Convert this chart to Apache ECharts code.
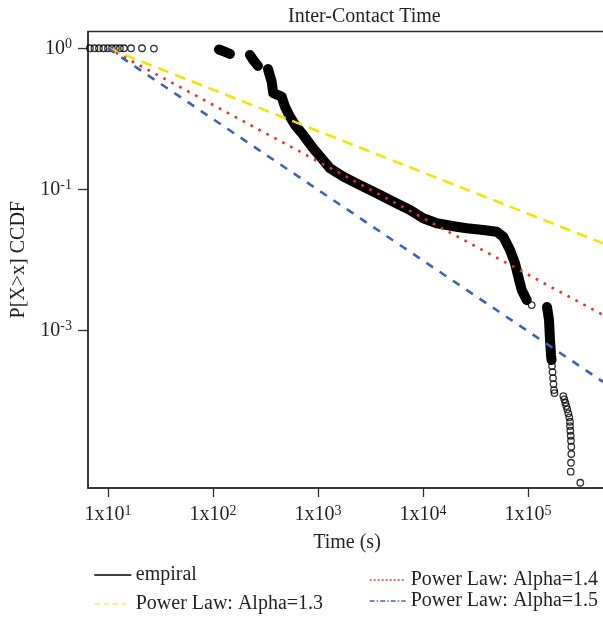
<!DOCTYPE html>
<html>
<head>
<meta charset="utf-8">
<script src="https://cdn.jsdelivr.net/npm/echarts@6/dist/echarts.min.js"></script>
<style>html,body{margin:0;padding:0;background:#fff}#c{width:603px;height:618px}</style>
</head>
<body>
<div id="c"></div>
<script>
// ---- data (log-log CCDF) ----
const xTickValues = [10, 100, 1000, 10000, 100000];
const xTickExponents = ['1', '2', '3', '4', '5'];
const yTickValues = [1, 0.1, 0.01];
const yTickLabels = [['10', '0'], ['10', '-1'], ['10', '-3']];

// empirical CCDF: dense runs (drawn as thick band) and sparse open circles
const empiralRun1 = [[114, 0.980], [127, 0.949], [145, 0.911]];
const empiralRun2 = [[225, 0.896], [245.6, 0.813], [268.3, 0.749]];
const empiralRun3 = [
  [334, 0.713], [362, 0.580], [375, 0.480], [451, 0.454], [485, 0.385],
  [541, 0.327], [604, 0.286], [724, 0.243], [902, 0.195], [1122, 0.161],
  [1300, 0.141], [1741, 0.123], [2512, 0.107], [3622, 0.0937], [5215, 0.0817],
  [7516, 0.0713], [10070, 0.0623], [13500, 0.0574], [20930, 0.0543], [26080, 0.0529],
  [37520, 0.0514], [50310, 0.0500], [58170, 0.0461], [67400, 0.0371], [75200, 0.0299],
  [80900, 0.0240], [87100, 0.0193], [97200, 0.0164]
];
const empiralRun4 = [[151700, 0.01463], [158500, 0.01183], [162000, 0.00854], [165600, 0.00669], [167500, 0.00615]];
const empiralCircles = [
  [6.74, 1], [7.44, 1], [8.21, 1], [9.06, 1], [10, 1], [10.9, 1], [11.9, 1], [13.0, 1],
  [14.2, 1], [16.6, 1], [21.1, 1], [27.4, 0.995],
  [108400, 0.01511],
  [169300, 0.005582], [171200, 0.005061], [173000, 0.004589], [174900, 0.004160],
  [176800, 0.003772], [178800, 0.003592],
  [216900, 0.003420], [221700, 0.003240], [226600, 0.003065], [231600, 0.002904],
  [236700, 0.002752], [242000, 0.002578], [247400, 0.002415], [251200, 0.002248],
  [251200, 0.002096], [252800, 0.001940], [255100, 0.001789], [256700, 0.001648],
  [258400, 0.001495], [258400, 0.001327], [256700, 0.001151], [255100, 0.000994],
  [314800, 0.000830]
];

// power-law reference lines (end points)
const powerLaw13 = [[10, 1], [517600, 0.0414]];
const powerLaw14 = [[10, 1], [517600, 0.01285]];
const powerLaw15 = [[10, 1], [517600, 0.004315]];

const seriesNames = ['empiral', 'Power Law: Alpha=1.3', 'Power Law: Alpha=1.4', 'Power Law: Alpha=1.5'];

// ---- chart ----
const FONT = 'Liberation Serif';
const TXT = '#231f20';
const AX = '#2e2e2e';

const supRich = {
  b: { fontSize: 20, lineHeight: 22, fontFamily: FONT, color: TXT },
  s: { fontSize: 14, lineHeight: 14, verticalAlign: 'top', fontFamily: FONT, color: TXT }
};

function nearIdx(arr, v) {
  for (let i = 0; i < arr.length; i++) {
    if (Math.abs(Math.log10(arr[i]) - Math.log10(v)) < 1e-6) return i;
  }
  return -1;
}

const chart = echarts.init(document.getElementById('c'), null, { renderer: 'canvas' });

const bandStyle = { width: 10, color: '#000', cap: 'round', join: 'round' };
function runSeries(data) {
  return {
    name: seriesNames[0], type: 'line', data: data, symbol: 'none', showSymbol: false,
    lineStyle: bandStyle, z: 2, silent: true
  };
}

function legendAt(name, left, top, lineStyle) {
  return {
    show: true,
    data: [{ name: name, lineStyle: lineStyle,
             itemStyle: { color: 'rgba(0,0,0,0)', borderColor: 'rgba(0,0,0,0)', borderWidth: 0, opacity: 0 } }],
    left: left, top: top, orient: 'horizontal', selectedMode: false,
    itemWidth: 36, itemHeight: 14,
    textStyle: { fontSize: 20, fontFamily: FONT, color: TXT }
  };
}

chart.setOption({
  animation: false,
  backgroundColor: '#fff',
  title: {
    text: 'Inter-Contact Time', left: 283, top: 2,
    textStyle: { fontSize: 20, fontWeight: 'normal', fontFamily: FONT, color: TXT }
  },
  grid: {
    left: 88, right: -3, top: 31.5, bottom: 130,
    show: true, borderColor: AX, borderWidth: 1.5, backgroundColor: 'transparent',
    containLabel: false, outerBoundsMode: 'none'
  },
  legend: [
    legendAt(seriesNames[0], 89, 560, { color: '#000', width: 1.6, type: 'solid' }),
    legendAt(seriesNames[1], 89, 589, { color: '#f4ea5a', width: 1.4, type: [5, 4] }),
    legendAt(seriesNames[2], 364, 565, { color: '#ee3b33', width: 1.4, type: [2, 2] }),
    legendAt(seriesNames[3], 364, 586, { color: '#3c64b4', width: 1.4, type: [5, 2, 1.5, 2] })
  ],
  xAxis: {
    type: 'log', logBase: 10, min: 6.457, max: 553000,
    name: 'Time (s)', nameLocation: 'middle', nameGap: 45,
    nameTextStyle: { fontSize: 20, fontFamily: FONT, color: TXT },
    axisLine: { show: true, lineStyle: { color: AX, width: 1.5 } },
    axisTick: { show: true, length: 9, customValues: xTickValues, lineStyle: { color: AX, width: 1.3 } },
    axisLabel: {
      show: true, margin: 16, customValues: xTickValues,
      formatter: function (v) {
        const i = nearIdx(xTickValues, v);
        return i < 0 ? '' : '{b|1x10}{s|' + xTickExponents[i] + '}';
      },
      rich: supRich
    },
    splitLine: { show: false }, minorTick: { show: false }
  },
  yAxis: {
    type: 'log', logBase: 10, min: 0.000762, max: 1.315,
    name: 'P[X>x] CCDF', nameLocation: 'middle', nameGap: 59, nameRotate: 90,
    nameTextStyle: { fontSize: 20, fontFamily: FONT, color: TXT },
    axisLine: { show: true, lineStyle: { color: AX, width: 1.5 } },
    axisTick: { show: true, length: 10, customValues: yTickValues, lineStyle: { color: AX, width: 1.3 } },
    axisLabel: {
      show: true, margin: 16, customValues: yTickValues,
      formatter: function (v) {
        const i = nearIdx(yTickValues, v);
        return i < 0 ? '' : '{b|' + yTickLabels[i][0] + '}{s|' + yTickLabels[i][1] + '}';
      },
      rich: supRich
    },
    splitLine: { show: false }, minorTick: { show: false }
  },
  series: [
    runSeries(empiralRun1),
    runSeries(empiralRun2),
    runSeries(empiralRun3),
    runSeries(empiralRun4),
    {
      name: seriesNames[0], type: 'scatter', data: empiralCircles, symbol: 'circle', symbolSize: 6.5,
      itemStyle: { color: 'rgba(0,0,0,0)', borderColor: '#000', borderWidth: 1.3 }, z: 3, silent: true
    },
    {
      name: seriesNames[1], type: 'line', data: powerLaw13, symbol: 'none',
      lineStyle: { color: '#f2e400', width: 2.6, type: [11, 7] }, z: 4, silent: true
    },
    {
      name: seriesNames[2], type: 'line', data: powerLaw14, symbol: 'none',
      lineStyle: { color: '#ee2b24', width: 2.6, type: [2.6, 6.4] }, z: 4, silent: true
    },
    {
      name: seriesNames[3], type: 'line', data: powerLaw15, symbol: 'none',
      lineStyle: { color: '#3a63b6', width: 2.6, type: [8, 8] }, z: 4, silent: true
    }
  ]
});
</script>
</body>
</html>
